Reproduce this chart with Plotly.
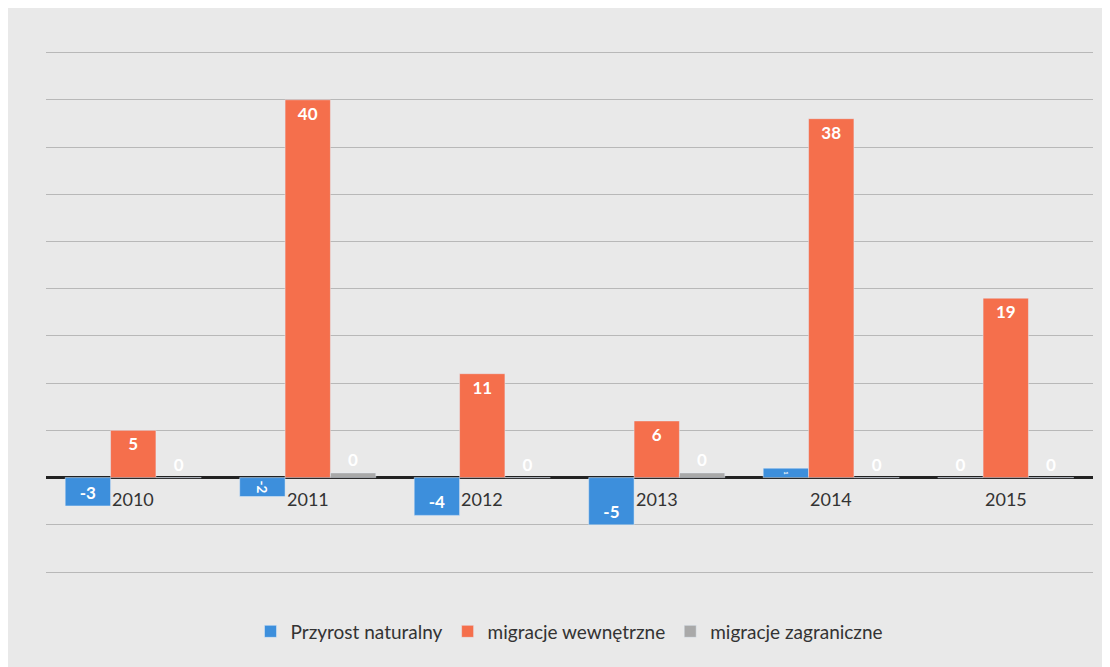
import plotly.graph_objects as go

lata = ["2010", "2011", "2012", "2013", "2014", "2015"]
przyrost = [-3, -2, -4, -5, 1, 0]
wewnetrzne = [5, 40, 11, 6, 38, 19]
zagraniczne = [0, 0.5, 0, 0.5, 0, 0]

SERIES = [
    ("Przyrost naturalny", przyrost, "#3d8fdc"),
    ("migracje wewnętrzne", wewnetrzne, "#f56f4c"),
    ("migracje zagraniczne", zagraniczne, "#a9a9a9"),
]

fig = go.Figure()
for name, vals, color in SERIES:
    fig.add_trace(go.Bar(
        x=lata, y=vals, name=name,
        marker_color=color,
        text=[f"{v:.0f}" for v in vals],
        textposition=["outside" if abs(v) < 1 else "inside" for v in vals],
        textfont=dict(color="white", size=17, family="Lato", weight="bold"),
    ))

# category labels sit just under the zero line (Excel "next to axis");
# annotations on a category axis take the serial index
for i, yr in enumerate(lata):
    fig.add_annotation(
        x=i, y=0, xref="x", yref="y", text=yr, showarrow=False,
        yanchor="top", yshift=-8, font=dict(size=18, color="#333333", family="Lato"),
    )

fig.update_layout(
    barmode="group",
    bargap=0.22,
    bargroupgap=0,
    width=1110, height=667,
    margin=dict(t=20, b=85, l=38, r=25),
    paper_bgcolor="#e9e9e9",
    plot_bgcolor="#e9e9e9",
    font=dict(family="Lato", size=18, color="#333333"),
    legend=dict(orientation="h", x=0.5, xanchor="center", y=-0.04, yanchor="top",
                font=dict(size=19)),
)
fig.update_xaxes(type="category", range=[-0.5, len(lata) - 0.5], showticklabels=False,
                 showgrid=False, showline=False)
fig.update_yaxes(range=[-11.9, 47.6], dtick=5, showticklabels=False, showgrid=True,
                 gridcolor="#b8b8b8", gridwidth=1,
                 zeroline=True, zerolinecolor="#222222", zerolinewidth=3)

fig.write_html("out.html")
